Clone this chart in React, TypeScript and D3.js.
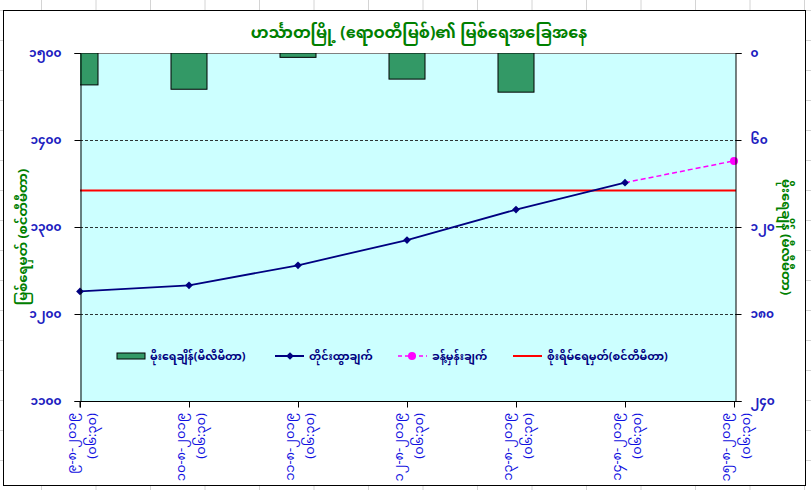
import React, { useEffect, useRef } from 'react';
import * as d3 from 'd3';

// chart text (Myanmar)
const chartTitle = 'ဟင်္သာတမြို့ (ဧရာဝတီမြစ်)၏ မြစ်ရေအခြေအနေ';
const leftTitle = 'မြစ်ရေမှတ် (စင်တီမီတာ)';
const rightTitle = 'မိုးရေချိန် (မီလီမီတာ)';

// categories
const dates = ['၉-၈-၂၀၁၉', '၁၀-၈-၂၀၁၉', '၁၁-၈-၂၀၁၉', '၁၂-၈-၂၀၁၉', '၁၃-၈-၂၀၁၉', '၁၄-၈-၂၀၁၉', '၁၅-၈-၂၀၁၉'];
const times = ['(၀၆:၃၀)', '(၀၆:၃၀)', '(၀၆:၃၀)', '(၀၆:၃၀)', '(၀၆:၃၀)', '(၀၆:၃၀)', '(၀၆:၃၀)'];

// series
const rainfall: (number | null)[] = [22, 25, 3, 18, 27, null, null];
const observed: (number | null)[] = [1226, 1233, 1256, 1285, 1320, 1351, null];
const forecast: (number | null)[] = [null, null, null, null, null, 1351, 1376];
const dangerLevel = 1342;

// axes
const leftTicks = [1100, 1200, 1300, 1400, 1500];
const leftTickLabels = ['၁၁၀၀', '၁၂၀၀', '၁၃၀၀', '၁၄၀၀', '၁၅၀၀'];
const rightTicks = [0, 60, 120, 180, 240];
const rightTickLabels = ['၀', '၆၀', '၁၂၀', '၁၈၀', '၂၄၀'];

// legend
const legendLabels = ['မိုးရေချိန်(မီလီမီတာ)', 'တိုင်းထွာချက်', 'ခန့်မှန်းချက်', 'စိုးရိမ်ရေမှတ်(စင်တီမီတာ)'];

const MM_FONT = '"Noto Sans Myanmar", "Myanmar Text", Padauk, "Noto Sans", sans-serif';

const App = () => {
  const ref = useRef<SVGSVGElement>(null);

  useEffect(() => {
    const svg = d3.select(ref.current);
    svg.selectAll('*').remove();

    const W = 811,
      H = 490;
    const plot = { left: 80, right: 736, top: 53, bottom: 401 };

    // spreadsheet grid behind the chart
    const grid = svg.append('g').attr('stroke', '#d4d4d4').attr('stroke-width', 1);
    for (let x = 41.5; x < W; x += 54.5) {
      grid.append('line').attr('x1', x).attr('x2', x).attr('y1', 0).attr('y2', H);
    }
    for (let y = 10.5; y < H; y += 30) {
      grid.append('line').attr('x1', 0).attr('x2', W).attr('y1', y).attr('y2', y);
    }

    // chart area
    svg
      .append('rect')
      .attr('x', 3.5)
      .attr('y', 10.5)
      .attr('width', 802)
      .attr('height', 475)
      .attr('fill', '#fff')
      .attr('stroke', '#000');

    const x = d3
      .scalePoint<number>()
      .domain(d3.range(dates.length))
      .range([plot.left, plot.right - 2]);
    const y = d3.scaleLinear().domain([1100, 1500]).range([plot.bottom, plot.top]);
    const y2 = d3.scaleLinear().domain([0, 240]).range([plot.top, plot.bottom]);

    svg
      .append('rect')
      .attr('x', plot.left)
      .attr('y', plot.top)
      .attr('width', plot.right - plot.left)
      .attr('height', plot.bottom - plot.top)
      .attr('fill', '#ccffff');

    svg
      .append('defs')
      .append('clipPath')
      .attr('id', 'plotclip')
      .append('rect')
      .attr('x', plot.left)
      .attr('y', plot.top)
      .attr('width', plot.right - plot.left)
      .attr('height', plot.bottom - plot.top);

    // gridlines
    svg
      .append('g')
      .selectAll('line')
      .data(leftTicks.filter((t) => t > 1100 && t < 1500))
      .enter()
      .append('line')
      .attr('x1', plot.left)
      .attr('x2', plot.right)
      .attr('y1', (d) => Math.round(y(d)) + 0.5)
      .attr('y2', (d) => Math.round(y(d)) + 0.5)
      .attr('stroke', '#000')
      .attr('stroke-dasharray', '3,2')
      .attr('stroke-width', 0.8);

    svg
      .append('line')
      .attr('x1', plot.left)
      .attr('x2', plot.right)
      .attr('y1', plot.top + 0.5)
      .attr('y2', plot.top + 0.5)
      .attr('stroke', '#808080');

    // rainfall bars (hanging from top, inverted axis)
    const barW = 36;
    svg
      .append('g')
      .attr('clip-path', 'url(#plotclip)')
      .selectAll('rect')
      .data(rainfall.map((v, i) => ({ v, i })).filter((d) => d.v !== null))
      .enter()
      .append('rect')
      .attr('x', (d) => (x(d.i) ?? 0) - barW / 2)
      .attr('y', y2(0))
      .attr('width', barW)
      .attr('height', (d) => y2(d.v as number) - y2(0))
      .attr('fill', '#339966')
      .attr('stroke', '#000')
      .attr('stroke-width', 1);

    // danger level
    svg
      .append('line')
      .attr('x1', plot.left)
      .attr('x2', plot.right)
      .attr('y1', y(dangerLevel))
      .attr('y2', y(dangerLevel))
      .attr('stroke', '#ff0000')
      .attr('stroke-width', 2);

    // forecast line
    const fData = forecast.map((v, i) => ({ v, i })).filter((d) => d.v !== null);
    const line = d3
      .line<{ v: number | null; i: number }>()
      .x((d) => x(d.i) ?? 0)
      .y((d) => y(d.v as number));
    svg
      .append('path')
      .datum(fData)
      .attr('d', line)
      .attr('fill', 'none')
      .attr('stroke', '#ff00ff')
      .attr('stroke-width', 1.5)
      .attr('stroke-dasharray', '5,3');
    svg
      .append('g')
      .selectAll('circle')
      .data(fData.slice(1))
      .enter()
      .append('circle')
      .attr('cx', (d) => x(d.i) ?? 0)
      .attr('cy', (d) => y(d.v as number))
      .attr('r', 4)
      .attr('fill', '#ff00ff');

    // observed line
    const oData = observed.map((v, i) => ({ v, i })).filter((d) => d.v !== null);
    svg
      .append('path')
      .datum(oData)
      .attr('d', line)
      .attr('fill', 'none')
      .attr('stroke', '#000080')
      .attr('stroke-width', 1.8);
    // square turned 45deg, like Excel's diamond marker
    const diamond = d3.symbol().type(d3.symbolSquare).size(30);
    svg
      .append('g')
      .selectAll('path')
      .data(oData)
      .enter()
      .append('path')
      .attr('d', diamond)
      .attr('transform', (d) => `translate(${x(d.i)},${y(d.v as number)}) rotate(45)`)
      .attr('fill', '#000080');

    // axes
    const leftAxis = svg
      .append('g')
      .attr('transform', `translate(${plot.left + 0.5},0)`)
      .call(
        d3
          .axisLeft(y)
          .tickValues(leftTicks)
          .tickSize(6)
          .tickFormat((_, i) => leftTickLabels[i]),
      );
    leftAxis.select('.domain').attr('stroke', '#000');
    leftAxis
      .selectAll('text')
      .attr('font-family', MM_FONT)
      .attr('font-size', 12)
      .attr('font-weight', 'bold')
      .attr('fill', '#2020c0')
      .attr('dx', -10);

    const rightAxis = svg
      .append('g')
      .attr('transform', `translate(${plot.right - 0.5},0)`)
      .call(
        d3
          .axisRight(y2)
          .tickValues(rightTicks)
          .tickSize(6)
          .tickFormat((_, i) => rightTickLabels[i]),
      );
    rightAxis
      .selectAll('text')
      .attr('font-family', MM_FONT)
      .attr('font-size', 12)
      .attr('font-weight', 'bold')
      .attr('fill', '#2020c0')
      .attr('dx', 6);

    const bottomAxis = svg
      .append('g')
      .attr('transform', `translate(0,${plot.bottom + 0.5})`)
      .call(
        d3
          .axisBottom(x)
          .tickSize(6)
          .tickFormat(() => ''),
      );
    bottomAxis.select('.domain').attr('d', `M${plot.left},6V0H${plot.right}`);

    // two-line rotated category labels
    const catG = svg
      .append('g')
      .selectAll('g')
      .data(dates.map((d, i) => ({ d, t: times[i], i })))
      .enter()
      .append('g')
      .attr('transform', (d) => `translate(${x(d.i)},${plot.bottom + 12}) rotate(-90)`)
      .attr('font-family', MM_FONT)
      .attr('font-size', 13)
      .attr('fill', '#1010e0')
      .attr('text-anchor', 'end');
    catG
      .append('text')
      .attr('x', 0)
      .attr('y', -4)
      .text((d) => d.d);
    catG
      .append('text')
      .attr('x', 0)
      .attr('y', 16)
      .text((d) => d.t);

    // titles
    svg
      .append('text')
      .attr('x', 419)
      .attr('y', 38)
      .attr('text-anchor', 'middle')
      .attr('font-family', MM_FONT)
      .attr('font-size', 16)
      .attr('font-weight', 'bold')
      .attr('fill', '#008000')
      .text(chartTitle);
    svg
      .append('text')
      .attr('transform', `translate(27,${(plot.top + plot.bottom) / 2 + 10}) rotate(-90)`)
      .attr('text-anchor', 'middle')
      .attr('font-family', MM_FONT)
      .attr('font-size', 13)
      .attr('font-weight', 'bold')
      .attr('fill', '#008000')
      .text(leftTitle);
    svg
      .append('text')
      .attr('transform', `translate(782,${(plot.top + plot.bottom) / 2 + 10}) rotate(90)`)
      .attr('text-anchor', 'middle')
      .attr('font-family', MM_FONT)
      .attr('font-size', 13)
      .attr('font-weight', 'bold')
      .attr('fill', '#008000')
      .text(rightTitle);

    // legend
    const ly = 356;
    const lg = svg
      .append('g')
      .attr('font-family', MM_FONT)
      .attr('font-size', 11)
      .attr('font-weight', 'bold')
      .attr('fill', '#000080');
    lg.append('rect')
      .attr('x', 117)
      .attr('y', ly - 3)
      .attr('width', 28)
      .attr('height', 6)
      .attr('fill', '#339966')
      .attr('stroke', '#000');
    lg.append('text').attr('x', 150).attr('y', ly + 4).text(legendLabels[0]);

    lg.append('line')
      .attr('x1', 275)
      .attr('x2', 304)
      .attr('y1', ly)
      .attr('y2', ly)
      .attr('stroke', '#000080')
      .attr('stroke-width', 2);
    lg.append('path')
      .attr('d', diamond)
      .attr('transform', `translate(290,${ly}) rotate(45)`)
      .attr('fill', '#000080');
    lg.append('text').attr('x', 309).attr('y', ly + 4).text(legendLabels[1]);

    lg.append('line')
      .attr('x1', 398)
      .attr('x2', 427)
      .attr('y1', ly)
      .attr('y2', ly)
      .attr('stroke', '#ff00ff')
      .attr('stroke-width', 1.5)
      .attr('stroke-dasharray', '4,3');
    lg.append('circle').attr('cx', 412).attr('cy', ly).attr('r', 4).attr('fill', '#ff00ff');
    lg.append('text').attr('x', 432).attr('y', ly + 4).text(legendLabels[2]);

    lg.append('line')
      .attr('x1', 513)
      .attr('x2', 542)
      .attr('y1', ly)
      .attr('y2', ly)
      .attr('stroke', '#ff0000')
      .attr('stroke-width', 2);
    lg.append('text').attr('x', 547).attr('y', ly + 4).text(legendLabels[3]);
  }, []);

  return (
    <svg
      ref={ref}
      width={811}
      height={490}
      style={{ position: 'absolute', left: 0, top: 0, display: 'block' }}
    />
  );
};

export default App;
